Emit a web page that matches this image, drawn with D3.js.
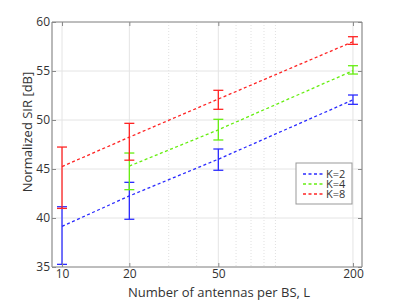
<!DOCTYPE html>
<html>
<head>
<meta charset="utf-8">
<script src="https://cdn.jsdelivr.net/npm/d3@7"></script>
<style>
  body { margin: 0; background: #fff; }
  text { font-family: "Open Sans", sans-serif; fill: #333; }
</style>
</head>
<body>
<div id="chart"></div>
<script>
// data
var antennas = [10, 20, 50, 200];
var minorGrid = [30, 40, 60, 70, 80, 90];
var yTicks = [35, 40, 45, 50, 55, 60];
var labels = ["K=2", "K=4", "K=8"];
var colors = ["#2b2bff", "#66ee11", "#ff2424"];

var k2x = [10, 20, 50, 200];
var k2mean = [39.15, 42.25, 46.0, 52.05];
var k2lo = [35.27, 39.87, 44.87, 51.6];
var k2hi = [41.15, 43.64, 47.04, 52.55];

var k4x = [20, 50, 200];
var k4mean = [45.3, 49.0, 55.03];
var k4lo = [42.89, 47.96, 54.69];
var k4hi = [46.63, 50.07, 55.54];

var k8x = [10, 20, 50, 200];
var k8mean = [45.25, 48.25, 52.14, 57.99];
var k8lo = [40.98, 45.9, 51.09, 57.72];
var k8hi = [47.24, 49.66, 53.03, 58.5];

var series = [
    { x: k2x, mean: k2mean, lo: k2lo, hi: k2hi },
    { x: k4x, mean: k4mean, lo: k4lo, hi: k4hi },
    { x: k8x, mean: k8mean, lo: k8lo, hi: k8hi }
];

var width = 400, height = 301;
var pLeft = 52, pRight = 362, pTop = 22, pBottom = 267;

var svg = d3.select('#chart').append('svg')
    .attr('width', width)
    .attr('height', height);

var x = d3.scaleLog().domain([9.02, 219.5]).range([pLeft, pRight]);
var y = d3.scaleLinear().domain([35, 60]).range([pBottom, pTop]);

// grid
var grid = svg.append('g');
grid.selectAll('.gx').data(antennas).enter().append('line')
    .attr('x1', function (d) { return x(d); })
    .attr('x2', function (d) { return x(d); })
    .attr('y1', pTop).attr('y2', pBottom)
    .attr('stroke', '#e4e4e4').attr('stroke-width', 1);
grid.selectAll('.gm').data(minorGrid).enter().append('line')
    .attr('x1', function (d) { return x(d); })
    .attr('x2', function (d) { return x(d); })
    .attr('y1', pTop).attr('y2', pBottom)
    .attr('stroke', '#e0e0e0').attr('stroke-width', 1)
    .attr('stroke-dasharray', '1,2');
grid.selectAll('.gy').data(yTicks).enter().append('line')
    .attr('x1', pLeft).attr('x2', pRight)
    .attr('y1', function (d) { return y(d); })
    .attr('y2', function (d) { return y(d); })
    .attr('stroke', '#e4e4e4').attr('stroke-width', 1);

// lines
var line = d3.line()
    .x(function (d) { return x(d[0]); })
    .y(function (d) { return y(d[1]); });

series.forEach(function (s, i) {
    var pts = s.x.map(function (v, j) { return [v, s.mean[j]]; });
    svg.append('path')
        .attr('d', line(pts))
        .attr('fill', 'none')
        .attr('stroke', colors[i])
        .attr('stroke-width', 1.3)
        .attr('stroke-dasharray', '3,2.5');

    var eb = svg.append('g').attr('stroke', colors[i]).attr('stroke-width', 1.3);
    s.x.forEach(function (v, j) {
        var cx = x(v);
        eb.append('line').attr('x1', cx).attr('x2', cx)
            .attr('y1', y(s.lo[j])).attr('y2', y(s.hi[j]));
        eb.append('line').attr('x1', cx - 5).attr('x2', cx + 5)
            .attr('y1', y(s.lo[j])).attr('y2', y(s.lo[j]));
        eb.append('line').attr('x1', cx - 5).attr('x2', cx + 5)
            .attr('y1', y(s.hi[j])).attr('y2', y(s.hi[j]));
    });
});

// axes box with inward ticks
var axisColor = '#8a8a8a';
var xAxis = svg.append('g')
    .attr('transform', 'translate(0,' + pBottom + ')')
    .call(d3.axisBottom(x).tickValues(antennas).tickSize(-4).tickPadding(2)
        .tickFormat(d3.format('d')));
var xTop = svg.append('g')
    .attr('transform', 'translate(0,' + pTop + ')')
    .call(d3.axisTop(x).tickValues(antennas).tickSize(-4).tickFormat(''));
var yAxis = svg.append('g')
    .attr('transform', 'translate(' + pLeft + ',0)')
    .call(d3.axisLeft(y).tickValues(yTicks).tickSize(-4).tickPadding(2));
var yRight = svg.append('g')
    .attr('transform', 'translate(' + pRight + ',0)')
    .call(d3.axisRight(y).tickValues(yTicks).tickSize(-4).tickFormat(''));

[xAxis, xTop, yAxis, yRight].forEach(function (a) {
    a.select('.domain').attr('stroke', axisColor).attr('stroke-width', 1.2);
    a.selectAll('.tick line').attr('stroke', axisColor);
    a.selectAll('.tick text')
        .style('font-family', '"Open Sans", sans-serif')
        .style('font-size', '12px')
        .attr('fill', '#333');
});
xAxis.selectAll('.domain').attr('d', 'M' + pLeft + ',0H' + pRight);
yAxis.selectAll('.domain').attr('d', 'M0,' + pTop + 'V' + pBottom);
xTop.selectAll('.domain').attr('d', 'M' + pLeft + ',0H' + pRight);
yRight.selectAll('.domain').attr('d', 'M0,' + pTop + 'V' + pBottom);

// axis titles
svg.append('text')
    .attr('x', 219)
    .attr('y', 297)
    .attr('text-anchor', 'middle')
    .style('font-size', '13px')
    .text('Number of antennas per BS, L');

svg.append('text')
    .attr('transform', 'translate(32,132) rotate(-90)')
    .attr('text-anchor', 'middle')
    .style('font-size', '13px')
    .text('Normalized SIR [dB]');

// legend
var leg = svg.append('g').attr('transform', 'translate(296,163)');
leg.append('rect')
    .attr('width', 56).attr('height', 41)
    .attr('fill', '#fff').attr('stroke', '#999').attr('stroke-width', 1);
labels.forEach(function (l, i) {
    var ly = 11 + i * 10;
    leg.append('line')
        .attr('x1', 7).attr('x2', 28)
        .attr('y1', ly).attr('y2', ly)
        .attr('stroke', colors[i]).attr('stroke-width', 1.3)
        .attr('stroke-dasharray', '3,2.5');
    leg.append('text')
        .attr('x', 30).attr('y', ly + 4)
        .style('font-size', '11px')
        .attr('fill', '#111')
        .text(l);
});
</script>
</body>
</html>
